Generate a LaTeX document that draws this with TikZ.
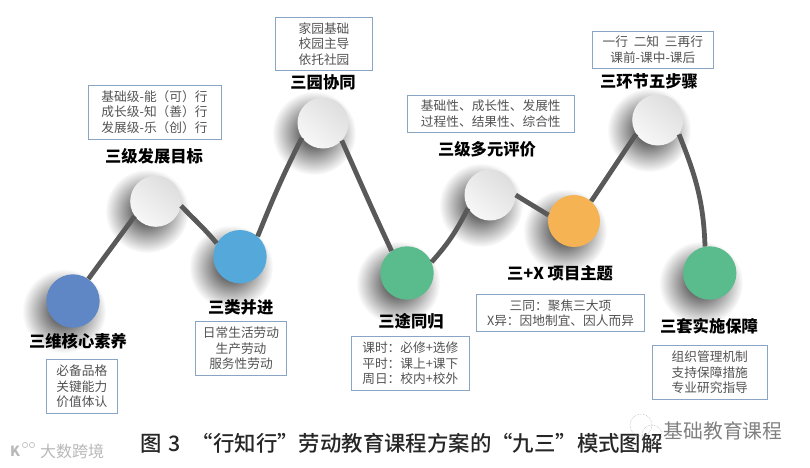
\documentclass[tikz,border=0pt]{standalone}
\usepackage{fontspec}
\setmainfont{Noto Sans CJK SC}
\newfontfamily\capfont{Noto Sans CJK SC Medium}
\usetikzlibrary{positioning, calc, fadings}

\definecolor{ballblue}{HTML}{5F87C6}
\definecolor{ballsky}{HTML}{55A9DA}
\definecolor{ballgreen}{HTML}{5ABC8C}
\definecolor{ballorange}{HTML}{F5B354}
\definecolor{boxline}{HTML}{8AA5C4}
\definecolor{wave}{HTML}{595959}
\tikzfading[name=softfade, inner color=transparent!15, outer color=transparent!100]

\begin{document}
\begin{tikzpicture}[x=1pt, y=1pt]
  % Styles
  \tikzstyle{ball} = [circle, inner sep=0pt, minimum size=53.4pt]
  \tikzstyle{blank} = [circle, inner sep=0pt, minimum size=51pt, top color=black!13, bottom color=black!3, shading angle=-40]
  \tikzstyle{softshadow} = [fill=black, path fading=softfade]
  \tikzstyle{title} = [inner sep=0pt, minimum height=18pt, font=\fontsize{16.3}{18}\selectfont\bfseries]
  \tikzstyle{info} = [rectangle, draw=boxline, line width=0.7pt, inner sep=0pt, align=center, text=black!68, font=\fontsize{12.7}{15.5}\selectfont]
  \tikzstyle{line} = [draw=wave, line width=4.8pt]
  \tikzstyle{stamp} = [text=black!28, inner sep=0pt]

  \useasboundingbox (0,-467) rectangle (810,0);

  % Shadows
  \foreach \px/\py in {73/301, 156/201, 240/257, 323/123, 407/273, 490/195, 574/221, 658/120, 710/273}
    \path[softshadow] (\px-9,-\py-10) circle (42);

  % Balls
  \node[ball, fill=ballblue] (core) at (73,-301) {};
  \node[blank] (goal) at (155.7,-201.3) {};
  \node[ball, fill=ballsky] (kind) at (240,-256.7) {};
  \node[blank] (yard) at (323,-123) {};
  \node[ball, fill=ballgreen] (path) at (407,-273) {};
  \node[blank] (eval) at (490,-195) {};
  \node[ball, fill=ballorange, minimum size=52pt] (topic) at (574,-221) {};
  \node[blank] (ring) at (657.7,-120) {};
  \node[ball, fill=ballgreen] (safe) at (709.7,-273) {};

  % Wave
  \draw[line] (core.55) to[out=54, in=234] (goal.215);
  \draw[line] (goal.-10) to[out=-46, in=130] (kind.150);
  \draw[line] (kind.49) to[out=68, in=243] (yard.215);
  \draw[line] (yard.-43) to[out=-66, in=115] (path.125);
  \draw[line] (path.24) to[out=48, in=243] (eval.211);
  \draw[line] (eval.0) to[out=-32, in=148] (topic.167);
  \draw[line] (topic.49) to[out=56, in=236] (ring.213);
  \draw[line] (ring.-34) to[out=-68, in=92] (safe.100);

  % Titles
  \node[title, below=4pt of core, xshift=5pt] (coreT) {三维核心素养};
  \node[title, above=9.8pt of goal, xshift=-1.7pt] (goalT) {三级发展目标};
  \node[title, below=14.3pt of kind, xshift=0.7pt] (kindT) {三类并进};
  \node[title, above=5.5pt of yard] (yardT) {三园协同};
  \node[title, below=12.3pt of path, xshift=4pt] (pathT) {三途同归};
  \node[title, above=11pt of eval, xshift=-3pt] (evalT) {三级多元评价};
  \node[title, below=17pt of topic, xshift=-14pt] (topicT) {三+X 项目主题};
  \node[title, above=3.5pt of ring, xshift=-8.7pt] (ringT) {三环节五步骤};
  \node[title, below=17.3pt of safe, xshift=-0.7pt] (safeT) {三套实施保障};

  % Boxes
  \node[info, below=8.6pt of coreT, xshift=3.85pt, minimum width=71.7pt, minimum height=54pt] (coreB) {必备品格\\关键能力\\价值体认};
  \node[info, above=8pt of goalT, xshift=0.5pt, minimum width=133pt, minimum height=54pt] (goalB) {基础级-能（可）行\\成长级-知（善）行\\发展级-乐（创）行};
  \node[info, below=4.6pt of kindT, xshift=0.3pt, minimum width=91.4pt, minimum height=54pt] (kindB) {日常生活劳动\\生产劳动\\服务性劳动};
  \node[info, above=2.5pt of yardT, xshift=1pt, minimum width=97pt, minimum height=53.5pt] (yardB) {家园基础\\校园主导\\依托社园};
  \node[info, below=5.3pt of pathT, xshift=-0.7pt, minimum width=118pt, minimum height=54pt] (pathB) {课时：必修+选修\\平时：课上+课下\\周日：校内+校外};
  \node[info, above=7.3pt of evalT, xshift=3.8pt, minimum width=166.3pt, minimum height=37.2pt] (evalB) {基础性、成长性、发展性\\过程性、结果性、综合性};
  \node[info, below=11.3pt of topicT, xshift=0.5pt, minimum width=168.4pt, minimum height=37.4pt] (topicB) {三同：聚焦三大项\\X异：因地制宜、因人而异};
  \node[info, above=3.7pt of ringT, xshift=3.8pt, minimum width=121.7pt, minimum height=37pt] (ringB) {一行\ \ 二知\ \ 三再行\\课前-课中-课后};
  \node[info, below=9.3pt of safeT, xshift=0.8pt, minimum width=115pt, minimum height=54pt] (safeB) {组织管理机制\\支持保障措施\\专业研究指导};

  % Caption
  \node[inner sep=0pt, text=black!85, font=\capfont\fontsize{21.4}{24}\selectfont] (caption) at (401.5,-443) {图\,\,3\,\,\,“行知行”劳动教育课程方案的“九三”模式图解};

  % Watermarks
  \node[stamp, font=\fontsize{16}{18}\selectfont] (stampL) at (72,-451) {大数跨境};
  \node[stamp, font=\fontsize{14}{16}\selectfont\bfseries] (stampK) at (15,-451) {K};
  \draw[black!22, line width=0.8pt] (25,-445) circle (2.6) (32,-445) circle (2.6);
  \node[text=black!50, inner sep=0pt, font=\fontsize{19.8}{22}\selectfont] (stampR) at (723,-431) {基础教育课程};
  \draw[black!25, line width=0.6pt, densely dotted] (641,-425) circle (11) (652,-435) circle (10);
\end{tikzpicture}
\end{document}
